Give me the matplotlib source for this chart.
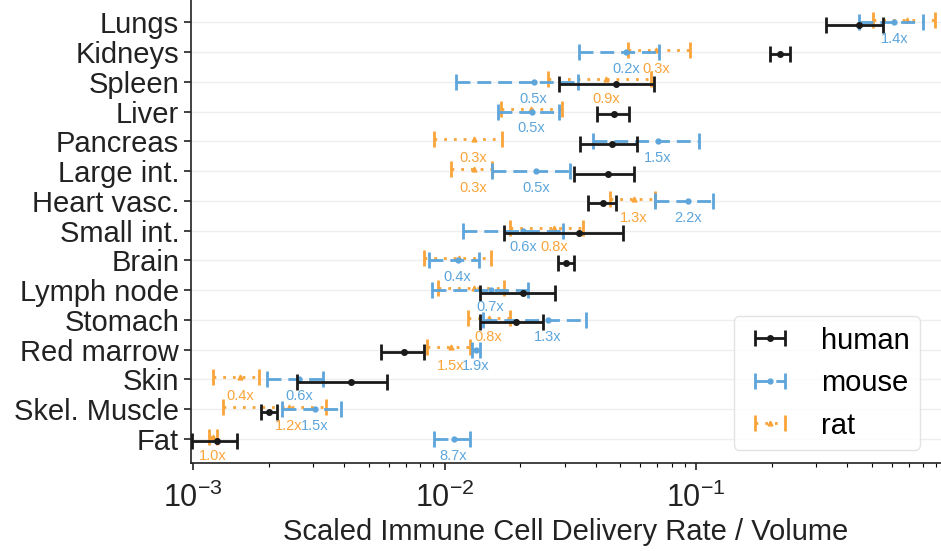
import numpy as np
import matplotlib.pyplot as plt

plt.rcParams['font.family'] = ['Liberation Sans', 'DejaVu Sans']
plt.rcParams['mathtext.default'] = 'regular'

organs = ["Lungs", "Kidneys", "Spleen", "Liver", "Pancreas", "Large int.", "Heart vasc.",
          "Small int.", "Brain", "Lymph node", "Stomach", "Red marrow", "Skin",
          "Skel. Muscle", "Fat"]

# centre, lower and upper bound per organ
human_c = [0.446, 0.216, 0.048, 0.0471, 0.0463, 0.0446, 0.0426, 0.0342, 0.0303, 0.0206,
           0.0192, 0.00693, 0.00426, 0.00201, 0.001246]
human_lo = [0.330, 0.197, 0.0284, 0.0403, 0.0345, 0.0327, 0.0371, 0.0173, 0.0282, 0.01378,
            0.0138, 0.00561, 0.00260, 0.00187, 0.00099]
human_hi = [0.556, 0.237, 0.068, 0.054, 0.0582, 0.0566, 0.048, 0.0512, 0.0327, 0.0274,
            0.0246, 0.00825, 0.00593, 0.00216, 0.00150]

mouse_c = [0.615, 0.0526, 0.0226, 0.0222, 0.0706, 0.0232, 0.093, 0.0205, 0.01127, 0.01525,
           0.0257, 0.0133, 0.00264, 0.00306, 0.01086]
mouse_lo = [0.446, 0.0342, 0.01106, 0.01626, 0.0389, 0.01539, 0.0687, 0.0118, 0.00871, 0.00888,
            0.01417, 0.01281, 0.00197, 0.00226, 0.00912]
mouse_hi = [0.802, 0.0712, 0.0339, 0.0284, 0.1028, 0.0315, 0.117, 0.0295, 0.01366, 0.0214,
            0.0364, 0.0138, 0.0033, 0.00389, 0.0126]

rat_c = [0.687, 0.0693, 0.0438, 0.022, 0.01305, 0.01305, 0.0566, 0.0272, 0.0114, 0.01305,
         0.01497, 0.01057, 0.00154, 0.0024, 0.0012]
rat_lo = [0.507, 0.0536, 0.0257, 0.0167, 0.00912, 0.01066, 0.0454, 0.01815, 0.00825, 0.00946,
          0.01235, 0.00855, 0.0012, 0.00131, 0.00116]
rat_hi = [0.888, 0.0947, 0.0662, 0.0292, 0.0170, 0.01539, 0.0687, 0.0355, 0.01525, 0.0172,
          0.01815, 0.0126, 0.00183, 0.00339, 0.00125]

mouse_lab = ["1.4x", "0.2x", "0.5x", "0.5x", "1.5x", "0.5x", "2.2x", "0.6x", "0.4x", "0.7x",
             "1.3x", "1.9x", "0.6x", "1.5x", "8.7x"]
rat_lab = [None, "0.3x", "0.9x", None, "0.3x", "0.3x", "1.3x", "0.8x", None, None,
           "0.8x", "1.5x", "0.4x", "1.2x", "1.0x"]

blue = '#5DA5DA'
orange = '#FAA43A'
dark = '#1a1a1a'

fig = plt.figure(figsize=(9.41, 5.51), dpi=100)
ax = fig.add_axes([0.203, 0.160, 0.797, 0.840])

y = np.arange(len(organs))


def draw(c, lo, hi, off, color, ls, marker, ms, label, z):
    c = np.array(c)
    err = [c - np.array(lo), np.array(hi) - c]
    eb = ax.errorbar(c, y + off, xerr=err, fmt=marker, ms=ms, color=color, ecolor=color,
                     elinewidth=2, capsize=6, capthick=2, label=label, zorder=z)
    eb[-1][0].set_linestyle(ls)
    return eb


draw(human_c, human_lo, human_hi, 0.08, dark, '-', 'o', 4, 'human', 5)
draw(mouse_c, mouse_lo, mouse_hi, 0.0, blue, (0, (5, 2.5)), 'o', 3.5, 'mouse', 4)
draw(rat_c, rat_lo, rat_hi, -0.08, orange, (0, (1, 2.5)), '^', 3.5, 'rat', 3)

for i in range(len(organs)):
    if rat_lab[i]:
        ax.text(rat_c[i], y[i] + 0.56, rat_lab[i], color=orange, fontsize=10.5,
                ha='center', va='center', zorder=6)
    ax.text(mouse_c[i], y[i] + 0.56, mouse_lab[i], color=blue, fontsize=10.5,
            ha='center', va='center', zorder=7)

ax.set_xscale('log')
ax.set_xlim(0.982e-3, 0.942)
ax.set_ylim(14.8, -0.75)
ax.set_yticks(y)
ax.set_yticklabels(organs, fontsize=21, color='#222222')
ax.tick_params(axis='x', labelsize=22, colors='#222222', width=1.2, length=5, pad=9)
ax.tick_params(axis='x', which='minor', width=0.8, length=3)
ax.tick_params(axis='y', width=1.2, length=5, colors='#222222')
ax.set_xlabel("Scaled Immune Cell Delivery Rate / Volume", fontsize=21, color='#222222',
              labelpad=3)

ax.grid(axis='y', color='#eeeeee', lw=1)
ax.set_axisbelow(True)
for s in ['top', 'right']:
    ax.spines[s].set_visible(False)
for s in ['left', 'bottom']:
    ax.spines[s].set_color('#222222')
    ax.spines[s].set_linewidth(1.2)

ax.legend(loc='lower right', bbox_to_anchor=(0.972, 0.028), fontsize=21, frameon=True,
          edgecolor='#dddddd', fancybox=True, borderaxespad=0.0, handlelength=1.8,
          handletextpad=0.85, borderpad=0.35, labelspacing=0.5)

plt.savefig("out.png", dpi=100)
